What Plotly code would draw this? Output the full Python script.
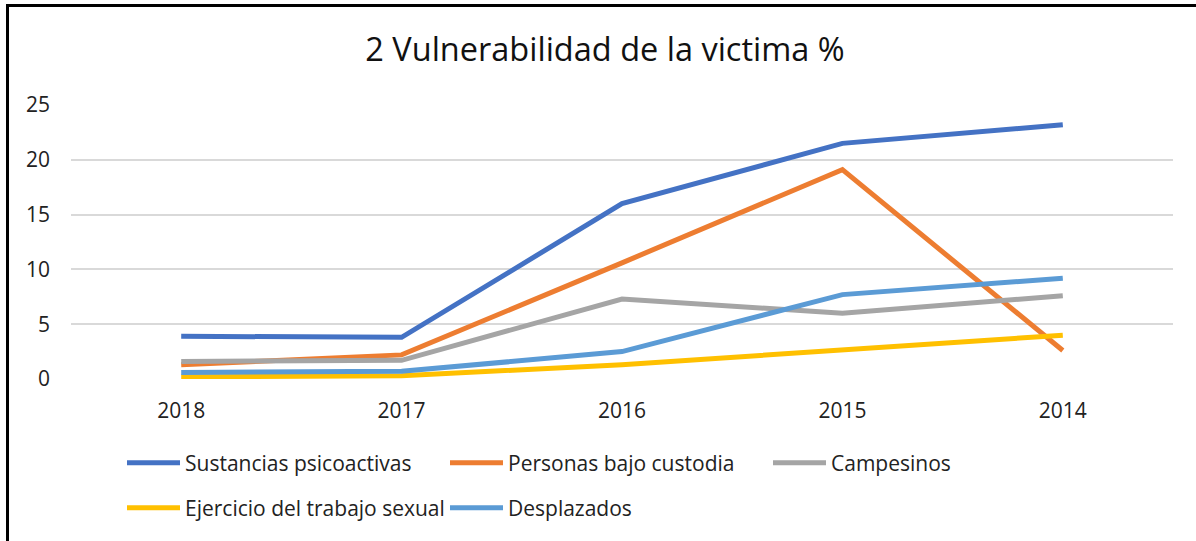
import plotly.graph_objects as go

years = ["2018", "2017", "2016", "2015", "2014"]
sustancias = [3.9, 3.8, 16.0, 21.5, 23.2]
custodia = [1.3, 2.2, 10.6, 19.1, 2.6]
campesinos = [1.6, 1.7, 7.3, 6.0, 7.6]
trabajo_sexual = [0.2, 0.3, 1.3, 2.6, 4.0]
desplazados = [0.6, 0.7, 2.5, 7.7, 9.2]

names = ["Sustancias psicoactivas", "Personas bajo custodia", "Campesinos",
         "Ejercicio del trabajo sexual", "Desplazados"]
series = [sustancias, custodia, campesinos, trabajo_sexual, desplazados]
colors = ["#4472C4", "#ED7D31", "#A5A5A5", "#FFC000", "#5B9BD5"]
legends = ["legend", "legend", "legend", "legend2", "legend2"]

FONT = "Open Sans, Liberation Sans, sans-serif"
W, H = 1196, 541
ML, MR, MT, MB = 71, 23, 105, 162
PW, PH = W - ML - MR, H - MT - MB

fig = go.Figure()
for n, s, c, lg in zip(names, series, colors, legends):
    fig.add_trace(go.Scatter(x=years, y=s, name=n, mode="lines",
                             line=dict(color=c, width=5), legend=lg))

leg_common = dict(orientation="h", xref="container", yref="container",
                  xanchor="left", yanchor="middle", entrywidth=255,
                  font=dict(family=FONT, size=21, color="#222"),
                  bgcolor="rgba(0,0,0,0)", itemwidth=53, traceorder="normal")

fig.update_layout(
    width=W, height=H,
    paper_bgcolor="white", plot_bgcolor="white",
    margin=dict(l=ML, r=MR, t=MT, b=MB, autoexpand=False),
    title=dict(text="2 Vulnerabilidad de la victima %", x=605 / W, xref="container",
               xanchor="center", y=1 - 50 / H, yanchor="middle",
               font=dict(family=FONT, size=32.5, color="#111")),
    legend=dict(x=122 / W, y=(H - 463) / H, **leg_common),
    legend2=dict(x=122 / W, y=(H - 508) / H, **leg_common),
    xaxis=dict(range=[-0.5, 4.5], showgrid=False, showline=False, ticks="",
               zeroline=False, automargin=False,
               tickfont=dict(family=FONT, size=21, color="#222"),
               ticklabelstandoff=17),
    yaxis=dict(range=[0, 25], dtick=5, showgrid=True, gridcolor="#D9D9D9",
               gridwidth=2, zeroline=False, showline=False, ticks="",
               automargin=False,
               tickfont=dict(family=FONT, size=21, color="#222"),
               ticklabelstandoff=20),
    shapes=[
        dict(type="rect", xref="paper", yref="paper",
             x0=(7.5 - ML) / PW, x1=(W - ML + 20) / PW,
             y0=-(MB + 20) / PH, y1=(MT - 5.5 + PH) / PH,
             line=dict(color="black", width=3), fillcolor="rgba(0,0,0,0)",
             layer="above"),
    ],
    showlegend=True,
)

fig.write_html("out.html", config={"displayModeBar": False},
               post_script="document.body.style.margin='0';document.body.style.overflow='hidden';")
